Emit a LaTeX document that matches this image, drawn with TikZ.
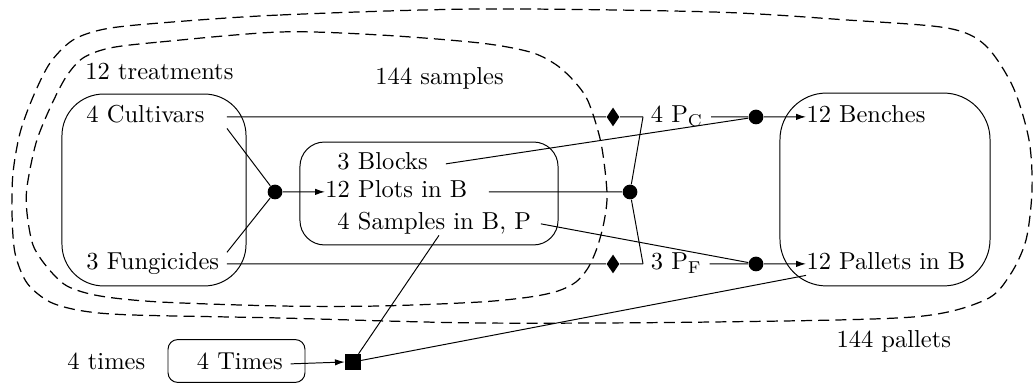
\documentclass[tikz,border=0pt]{standalone}
\usepackage{amsmath}
\usetikzlibrary{arrows.meta,positioning,shapes.geometric}
\begin{document}
\begin{tikzpicture}[x=0.408pt, y=-0.408pt,
    grp/.style={draw, rounded corners=#1, inner sep=0pt},
    lab/.style={inner sep=0pt, anchor=base west, text height=7pt, text depth=2pt, align=left},
    tag/.style={lab, inner xsep=3pt},
    dot/.style={circle, fill, inner sep=0pt, minimum size=6pt},
    diam/.style={diamond, fill, inner sep=0pt, minimum width=5.3pt, minimum height=7.8pt},
    blk/.style={rectangle, fill, inner sep=0pt, minimum size=6.3pt},
    bound/.style={dash pattern=on 4.5pt off 2.5pt, line width=0.5pt},
    arrow/.style={-{Latex[length=4pt,width=2.6pt]}}
]
\useasboundingbox (0,0) rectangle (1034,385);
\draw[bound] plot[smooth cycle] coordinates {(160,23) (280,15) (480,9) (713,12) (847,20) (947,28) (985,45) (1013,87) (1029,140) (1032,190) (1026,240) (1010,275) (985,300) (913,317) (713,322) (480,323) (280,318) (133,315) (83,311) (50,302) (27,283) (15,253) (12,213) (13,173) (20,133) (33,97) (50,63) (73,40) (105,29)};
\draw[bound] plot[smooth cycle] coordinates {(110,48) (160,42) (280,32) (380,35) (480,43) (530,52) (555,64) (573,80) (588,101) (601,143) (607,193) (604,222) (597,248) (588,268) (576,282) (558,291) (530,297) (480,302) (380,306) (280,306) (160,302) (100,296) (67,286) (47,267) (33,245) (27,213) (27,187) (36,143) (50,108) (66,77) (83,58)};
\node[grp=17pt, minimum width=75.1pt, minimum height=78.3pt] (trtbox) at (154,190) {};
\node[grp=10pt, minimum width=105.3pt, minimum height=42pt] (plotbox) at (429,193.5) {};
\node[grp=19pt, minimum width=85.7pt, minimum height=78.7pt] (unitbox) at (885,189.5) {};
\node[grp=4pt, minimum width=55.9pt, minimum height=17.5pt] (timebox) at (236.5,361) {};
\node[lab] (trtlab) at (85,80) {12 treatments};
\node[lab] (smplab) at (375,85) {144 samples};
\node[lab] (pltlab) at (836,348) {144 pallets};
\node[lab] (timlab) at (67,370) {4 times};
\node[lab, text width=57.1pt] (cult) at (86,123) {4 Cultivars};
\node[lab, text width=57.1pt] (fung) at (86,270) {3 Fungicides};
\node[lab, text width=44pt] (blocks) at (337,170) {3 Blocks};
\node[lab, text width=66.5pt] (plots) at (325,198) {12 Plots in B};
\node[lab, text width=82.8pt] (samples) at (337,230) {4 Samples in B, P};
\node[tag] (pc) at (643,123) {4 P$_{\mathrm{C}}$};
\node[tag] (pf) at (643,270) {3 P$_{\mathrm{F}}$};
\node[lab] (benches) at (806,123) {12 Benches};
\node[lab] (pallets) at (806,270) {12 Pallets in B};
\node[tag] (times) at (189,370) {4 Times};
\node[dot] (cross) at (275,192) {};
\node[dot] (plotdot) at (630,192) {};
\node[dot] (benchdot) at (756,117) {};
\node[dot] (palletdot) at (756,264) {};
\node[diam] (dc) at (613,117) {};
\node[diam] (df) at (613,264) {};
\node[blk] (sq) at (353,362) {};
\draw (cult.south east) -- (cross);
\draw (fung.north east) -- (cross);
\draw[arrow] (cross) -- (plots.west);
\draw (cult.east) -- (dc) -- (pc.west);
\draw (fung.east) -- (df) -- (pf.west);
\draw (plots.east) -- (plotdot);
\draw (plotdot) -- (pc.west);
\draw (plotdot) -- (pf.west);
\draw (pc.east) -- (benchdot);
\draw (blocks.east) -- (benchdot);
\draw[arrow] (benchdot) -- (benches.west);
\draw (pf.east) -- (palletdot);
\draw (samples.east) -- (palletdot);
\draw[arrow] (palletdot) -- (pallets.west);
\draw[arrow] (times.east) -- (sq.west);
\draw (samples.south) -- (sq);
\draw (sq) -- (pallets.south west);
\end{tikzpicture}
\end{document}
